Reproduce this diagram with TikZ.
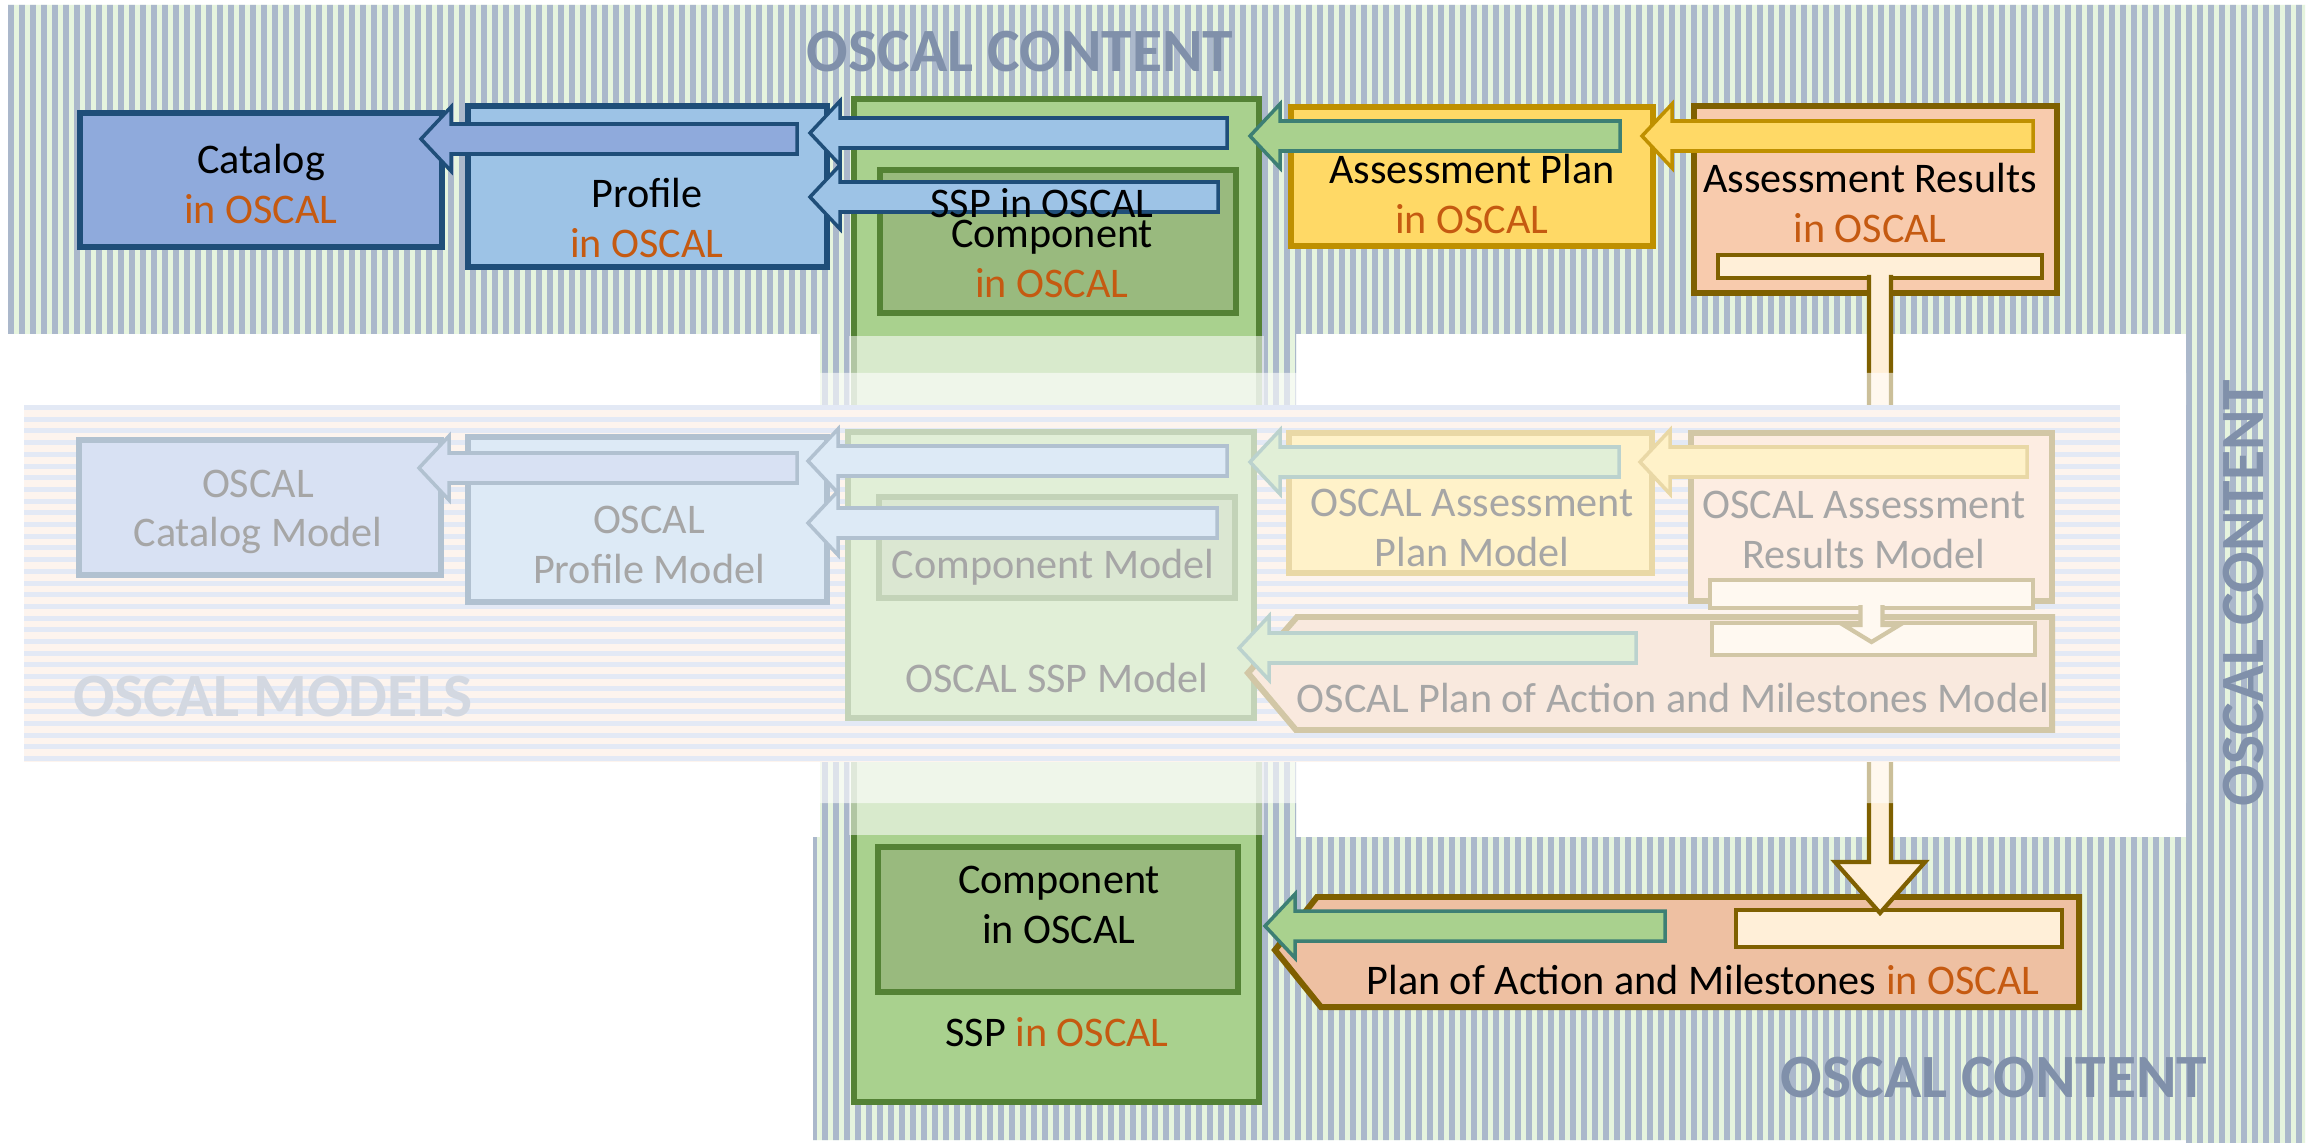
\documentclass[tikz,border=0pt]{standalone}
\usepackage{fontspec}
\setmainfont{Carlito}
\usetikzlibrary{calc, fit}

\definecolor{stripeblue}{HTML}{ABB8CB}
\definecolor{stripegreen}{HTML}{E6F4DE}
\definecolor{modelblue}{HTML}{E3E9F5}
\definecolor{modelpeach}{HTML}{FDF4EE}
\definecolor{titlegray}{HTML}{8090AA}
\definecolor{oscorange}{HTML}{C55A11}
\definecolor{catfill}{HTML}{8FAADC}
\definecolor{proffill}{HTML}{9DC3E6}
\definecolor{blueline}{HTML}{1F4E79}
\definecolor{sspfill}{HTML}{A9D18E}
\definecolor{compfill}{HTML}{99BA7E}
\definecolor{greenline}{HTML}{548235}
\definecolor{tealline}{HTML}{3D7F74}
\definecolor{apfill}{HTML}{FFD966}
\definecolor{apline}{HTML}{BF9000}
\definecolor{arfill}{HTML}{F8CBAD}
\definecolor{poamfill}{HTML}{EEC0A2}
\definecolor{brownline}{HTML}{7F6000}
\definecolor{barfill}{HTML}{FFEFD8}

\newcommand{\inosc}{\textcolor{oscorange}{in OSCAL}}
\newcommand{\boxfont}{\fontsize{12}{14}\selectfont}
\newcommand{\titlefont}{\fontsize{17.5}{20}\selectfont\bfseries}

% left pointing block arrow: tail (only its x is used), tip
\newcommand{\blockarrow}[3][]{%
	\path[#1] (#3) -- ++(30,-32) -- ++(0,17) -- ($(#2 |- #3)+(0,-15)$)
		-- ++(0,30) -- ($(#3)+(30,15)$) -- ++(0,17) -- cycle;}

% stem hanging under a bar: top, tip, head half width, head length
\newcommand{\dropstem}[5][]{%
	\path[#1] ($(#2)+(-11,0)$) -- ($(#3)+(-11,-#5)$) -- ($(#3)+(-#4,-#5)$) -- (#3)
		-- ($(#3)+(#4,-#5)$) -- ($(#3)+(11,-#5)$) -- ($(#2)+(11,0)$);}

\begin{document}
\begin{tikzpicture}[x=0.01cm, y=-0.01cm,
	box/.style={line width=1.7pt, inner sep=0pt, outer sep=0pt},
	catbox/.style={box, draw=blueline!#1, fill=catfill!#1}, catbox/.default=100,
	profbox/.style={box, draw=blueline!#1, fill=proffill!#1}, profbox/.default=100,
	sspbox/.style={box, draw=greenline!#1, fill=sspfill!#1}, sspbox/.default=100,
	compbox/.style={box, draw=greenline!#1, fill=compfill!#1}, compbox/.default=100,
	apbox/.style={box, draw=apline!#1, fill=apfill!#1}, apbox/.default=100,
	arbox/.style={box, draw=brownline!#1, fill=arfill!#1}, arbox/.default=100,
	poambox/.style={box, draw=brownline!#1, fill=poamfill!#1}, poambox/.default=100,
	barbox/.style={box, line width=1.2pt, draw=brownline!#1, fill=barfill!#1}, barbox/.default=100,
	catarrow/.style={line width=1pt, draw=blueline!#1, fill=catfill!#1}, catarrow/.default=100,
	profarrow/.style={line width=1pt, draw=blueline!#1, fill=proffill!#1}, profarrow/.default=100,
	greenarrow/.style={line width=1pt, draw=tealline!#1, fill=sspfill!#1}, greenarrow/.default=100,
	yellowarrow/.style={line width=1pt, draw=apline!#1, fill=apfill!#1}, yellowarrow/.default=100,
	txt/.style={align=center, font=\boxfont, text=black!#1}, txt/.default=100,
	title/.style={font=\titlefont, text=titlegray}]

	\useasboundingbox (0,0) rectangle (2310,1143);
	\fill[white] (0,0) rectangle (2310,1143);

	% content background
	\begin{scope}
		\clip (8,5) rectangle (2305,334) (2186,5) rectangle (2305,1143)
			(813,837) rectangle (2186,1140) (820,334) rectangle (1296,837);
		\fill[stripegreen] (0,0) rectangle (2310,1143);
		\foreach \x in {8,19,...,2305}
			\fill[stripeblue] (\x,0) rectangle ++(5.5,1143);
	\end{scope}

	% content
	\node[catbox, fit={(80,113) (442,247)}] (cat) {};
	\node[profbox, fit={(468,106) (827,267)}] (prof) {};
	\node[sspbox, fit={(854,99) (1259,1102)}] (ssp) {};
	\node[compbox, fit={(880,170) (1236,313)}] (comp) {};
	\node[apbox, fit={(1291,107) (1653,246)}] (ap) {};
	\node[arbox, fit={(1694,106) (2057,293)}] (ar) {};
	\node[barbox, fit={(1718,255) (2042,278)}] (arbar) {};
	\node[compbox, fit={(878,847) (1238,992)}] (comp2) {};
	\draw[poambox] (1317,897) -- (2079,897) -- (2079,1007) -- (1321,1007) -- (1275,950) -- cycle;
	\node[barbox, fit={(1736,910) (2062,947)}] (poambar) {};

	\coordinate (catin) at ($(cat.north east)+(-21,26)$);
	\coordinate (profout) at ($(prof.east)+(-30,0)$);
	\coordinate (profin) at ($(prof.north east)+(-17,27)$);
	\coordinate (profin2) at ($(prof.north east)+(-17,91)$);
	\coordinate (sspout) at ($(ssp.east)+(-32,0)$);
	\coordinate (compout) at ($(comp.east)+(-18,0)$);
	\coordinate (sspin) at ($(ssp.north east)+(-9,37)$);
	\coordinate (apout) at ($(ap.east)+(-33,0)$);
	\coordinate (apin) at ($(ap.north east)+(-11,29)$);
	\coordinate (arout) at ($(ar.east)+(-24,0)$);
	\coordinate (sspin2) at ($(ssp.south east)+(6,-176)$);
	\coordinate (poamout) at ($(poambar.west)+(-71,0)$);
	\coordinate (stemtop) at ($(arbar.south)+(0,-3)$);
	\coordinate (stemtip) at ($(arbar.south |- poambar.north)+(0,3)$);

	\blockarrow[catarrow]{profout}{catin}
	\blockarrow[profarrow]{sspout}{profin}
	\blockarrow[profarrow]{compout}{profin2}
	\blockarrow[greenarrow]{apout}{sspin}
	\blockarrow[yellowarrow]{arout}{apin}
	\blockarrow[greenarrow]{poamout}{sspin2}
	\dropstem[barbox]{stemtop}{stemtip}{45}{51}

	\node[txt] (cattxt) at (261,184) {Catalog\\\inosc};
	\node[txt] (proftxt) at (647,218) {Profile\\\inosc};
	\node[txt] (ssptxt) at (1042,203) {SSP in OSCAL};
	\node[txt] (comptxt) at (1052,259) {Component\\\inosc};
	\node[txt] (aptxt) at (1472,194) {Assessment Plan\\\inosc};
	\node[txt] (artxt) at (1870,203) {Assessment Results\\\inosc};
	\node[txt] (comp2txt) at (1059,905) {Component\\in OSCAL};
	\node[txt] (ssp2txt) at (1057,1032) {SSP \inosc};
	\node[txt] (poamtxt) at (1703,980) {Plan of Action and Milestones \inosc};

	% washed out middle
	\fill[white, opacity=0.55] (849,336) rectangle (1264,835);
	\fill[white, opacity=0.6] (810,373) rectangle (2186,405) (810,762) rectangle (2186,803);

	% models band
	\fill[modelpeach] (24,405) rectangle (2120,762);
	\foreach \y in {405,416.7,...,760}
		\fill[modelblue] (24,\y) rectangle ++(2096,5);
	\node[title, text=titlegray!35] (modeltitle) at (273,697) {OSCAL MODELS};

	\node[catbox=35, fit={(79,440) (441,575)}] (catm) {};
	\node[profbox=35, fit={(468,437) (827,602)}] (profm) {};
	\node[sspbox=35, fit={(848,432) (1254,718)}] (sspm) {};
	\node[compbox=35, fit={(879,497) (1235,598)}] (compm) {};
	\node[apbox=35, fit={(1289,433) (1652,573)}] (apm) {};
	\node[arbox=35, fit={(1691,433) (2052,601)}] (arm) {};
	\node[barbox=35, fit={(1710,580) (2033,608)}] (armbar) {};
	\draw[poambox=35] (1297,617) -- (2052,617) -- (2052,730) -- (1296,730) -- (1248,673) -- cycle;
	\node[barbox=35, fit={(1712,623) (2035,655)}] (poammbar) {};

	\coordinate (catmin) at ($(catm.north east)+(-22,28)$);
	\coordinate (profmout) at ($(profm.east)+(-30,0)$);
	\coordinate (profmin) at ($(profm.north east)+(-19,24)$);
	\coordinate (profmin2) at ($(profm.north east)+(-19,86)$);
	\coordinate (sspmout) at ($(sspm.east)+(-27,0)$);
	\coordinate (compmout) at ($(compm.east)+(-18,0)$);
	\coordinate (sspmin) at ($(sspm.north east)+(-4,30)$);
	\coordinate (apmout) at ($(apm.east)+(-33,0)$);
	\coordinate (apmin) at ($(apm.north east)+(-12,29)$);
	\coordinate (armout) at ($(arm.east)+(-25,0)$);
	\coordinate (sspmin2) at ($(sspm.east)+(-15,73)$);
	\coordinate (poammout) at ($(poammbar.west)+(-76,0)$);
	\coordinate (armstem) at ($(armbar.south)+(0,-3)$);
	\coordinate (armtip) at ($(armbar.south |- poammbar.north)+(0,19)$);

	\blockarrow[catarrow=35]{profmout}{catmin}
	\blockarrow[profarrow=35]{sspmout}{profmin}
	\blockarrow[profarrow=35]{compmout}{profmin2}
	\blockarrow[greenarrow=35]{apmout}{sspmin}
	\blockarrow[yellowarrow=35]{armout}{apmin}
	\blockarrow[greenarrow=35]{poammout}{sspmin2}
	\dropstem[barbox=35]{armstem}{armtip}{28}{17}

	\node[txt=35] (catmtxt) at (258,512) {OSCAL\\Catalog Model};
	\node[txt=35] (profmtxt) at (649,545) {OSCAL\\Profile Model};
	\node[txt=35] (compmtxt) at (1053,567) {Component Model};
	\node[txt=35] (sspmtxt) at (1057,678) {OSCAL SSP Model};
	\node[txt=35] (apmtxt) at (1472,528) {OSCAL Assessment\\Plan Model};
	\node[txt=35] (armtxt) at (1864,530) {OSCAL Assessment\\Results Model};
	\node[txt=35] (poammtxt) at (1673,698) {OSCAL Plan of Action and Milestones Model};

	% band titles
	\node[title] (toptitle) at (1020,52) {OSCAL CONTENT};
	\node[title, rotate=90] (sidetitle) at (2243,593) {OSCAL CONTENT};
	\node[title] (foottitle) at (1994,1078) {OSCAL CONTENT};
\end{tikzpicture}
\end{document}
